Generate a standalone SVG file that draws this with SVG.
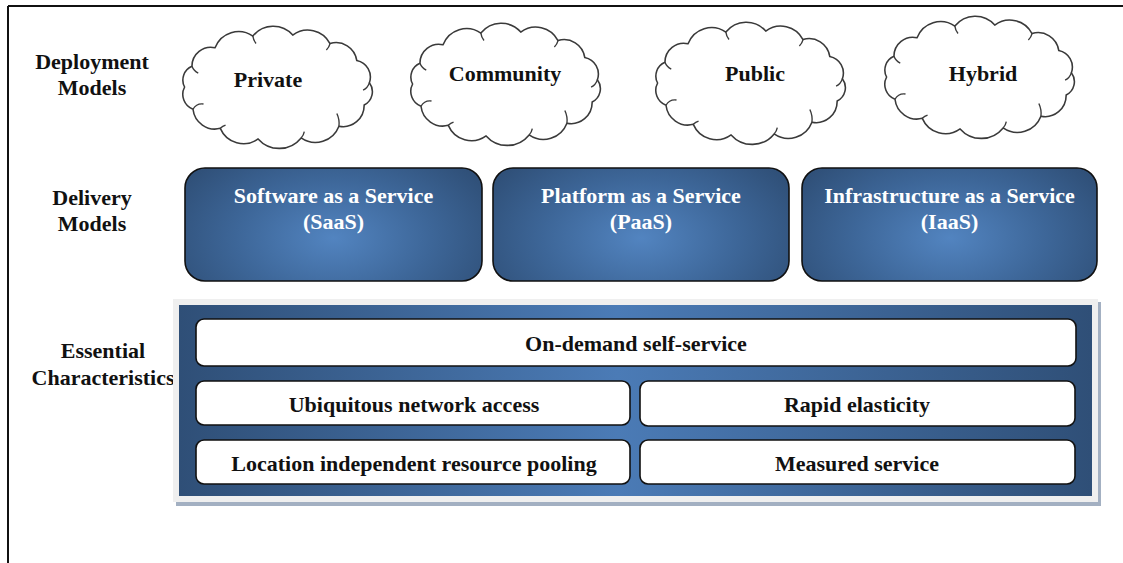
<svg xmlns="http://www.w3.org/2000/svg" width="1123" height="563" viewBox="0 0 1123 563">
<style>
.lbl{font-family:"Liberation Serif","Times New Roman",serif;font-weight:bold;font-size:22px;fill:#111;text-anchor:middle}
.wt{font-family:"Liberation Serif","Times New Roman",serif;font-weight:bold;font-size:22px;fill:#fff;text-anchor:middle}
.cloud{fill:#fff;stroke:#3a3a3a;stroke-width:1.5;stroke-linejoin:round}
.hook{fill:none;stroke:#3a3a3a;stroke-width:1.3}
.dbox{fill:url(#rg);stroke:#111;stroke-width:1.6}
.wbox{fill:#fff;stroke:#111;stroke-width:1.6}
</style>
<defs>
<radialGradient id="rg" cx="0.5" cy="0.62" r="0.6" gradientTransform="translate(0.5 0.62) scale(1 1.6) translate(-0.5 -0.62)">
<stop offset="0" stop-color="#5284c0"/>
<stop offset="0.55" stop-color="#3d6698"/>
<stop offset="1" stop-color="#2f4f77"/>
</radialGradient>
<linearGradient id="lg" x1="0" y1="0" x2="1" y2="0">
<stop offset="0" stop-color="#2f4f77"/>
<stop offset="0.48" stop-color="#4b7bb6"/>
<stop offset="1" stop-color="#2f4f77"/>
</linearGradient>
<g id="cloudShape" transform="scale(1.05 1.06)">
<path class="cloud" d="M-88,0 A14,14 0 0 1 -81,-19.5 A18,18 0 0 1 -59,-37 A24,24 0 0 1 -23,-48 A25,25 0 0 1 15,-49 A24,24 0 0 1 50.5,-41 A20,20 0 0 1 76,-25 A16,16 0 0 1 88,-4 A14,14 0 0 1 83,17 A20,20 0 0 1 59,37 A24,24 0 0 1 23,48 A27,27 0 0 1 -18,49 A24,24 0 0 1 -54,39 A21,21 0 0 1 -80,21 A15,15 0 0 1 -88,0 Z"/>
<path class="hook" d="M-81,-19.5 A12,12 0 0 0 -75,-13"/>
<path class="hook" d="M-23,-48 A14,14 0 0 0 -20,-41"/>
<path class="hook" d="M50.5,-41 A12,12 0 0 1 47,-35"/>
<path class="hook" d="M88,-4 A12,12 0 0 1 82,3"/>
<path class="hook" d="M59,37 A22,22 0 0 0 57,25"/>
<path class="hook" d="M23,48 A12,12 0 0 0 26,42"/>
<path class="hook" d="M-54,39 A14,14 0 0 1 -49,36"/>
<path class="hook" d="M-80,21 A10,10 0 0 1 -70,16"/>
</g>
</defs>
<g id="frame" fill="none" stroke="#111" stroke-width="2">
<line x1="8" y1="6" x2="1123" y2="6"/>
<line x1="8" y1="6" x2="8" y2="563"/>
</g>
<g id="left-labels">
<text class="lbl" x="92" y="69">Deployment</text>
<text class="lbl" x="92" y="95">Models</text>
<text class="lbl" x="92" y="205">Delivery</text>
<text class="lbl" x="92" y="231">Models</text>
<text class="lbl" x="103" y="358">Essential</text>
<text class="lbl" x="103" y="385">Characteristics</text>
</g>
<g id="cloud-private">
<use href="#cloudShape" transform="translate(277,87)"/>
<text class="lbl" x="268" y="87">Private</text>
</g>
<g id="cloud-community">
<use href="#cloudShape" transform="translate(505,84)"/>
<text class="lbl" x="505" y="81">Community</text>
</g>
<g id="cloud-public">
<use href="#cloudShape" transform="translate(750,83)"/>
<text class="lbl" x="755" y="81">Public</text>
</g>
<g id="cloud-hybrid">
<use href="#cloudShape" transform="translate(979,77)"/>
<text class="lbl" x="983" y="81">Hybrid</text>
</g>
<g id="saas">
<rect class="dbox" x="185" y="168" width="297" height="113" rx="20"/>
<text class="wt" x="333.5" y="203">Software as a Service</text>
<text class="wt" x="333.5" y="229">(SaaS)</text>
</g>
<g id="paas">
<rect class="dbox" x="493" y="168" width="296" height="113" rx="20"/>
<text class="wt" x="641" y="203">Platform as a Service</text>
<text class="wt" x="641" y="229">(PaaS)</text>
</g>
<g id="iaas">
<rect class="dbox" x="802" y="168" width="295" height="113" rx="20"/>
<text class="wt" x="949.5" y="203">Infrastructure as a Service</text>
<text class="wt" x="949.5" y="229">(IaaS)</text>
</g>
<g id="characteristics-panel">
<rect x="176" y="302" width="925" height="204" fill="#a3b0c2"/>
<rect x="173" y="299" width="925" height="203" fill="#efefef"/>
<rect x="179" y="305" width="913" height="191" fill="url(#lg)"/>
</g>
<g id="on-demand">
<rect class="wbox" x="196" y="319" width="880" height="47" rx="8"/>
<text class="lbl" x="636" y="351">On-demand self-service</text>
</g>
<g id="ubiquitous">
<rect class="wbox" x="196" y="381" width="434" height="44" rx="8"/>
<text class="lbl" x="414" y="412">Ubiquitous network access</text>
</g>
<g id="rapid">
<rect class="wbox" x="640" y="381" width="435" height="45" rx="8"/>
<text class="lbl" x="857" y="412">Rapid elasticity</text>
</g>
<g id="location">
<rect class="wbox" x="196" y="440" width="434" height="44" rx="8"/>
<text class="lbl" x="414" y="471">Location independent resource pooling</text>
</g>
<g id="measured">
<rect class="wbox" x="640" y="440" width="435" height="44" rx="8"/>
<text class="lbl" x="857" y="471">Measured service</text>
</g>
<g id="connectors"/>
</svg>
